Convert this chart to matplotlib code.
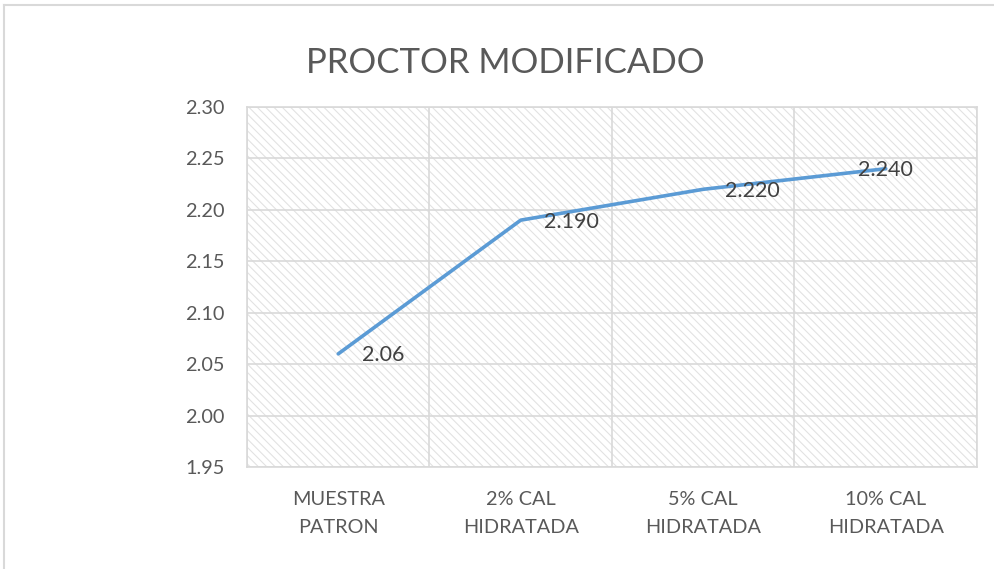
import matplotlib
matplotlib.use("Agg")
import matplotlib.pyplot as plt
from matplotlib.patches import Rectangle
from matplotlib.lines import Line2D

# data
categories = ["MUESTRA\nPATRON", "2% CAL\nHIDRATADA", "5% CAL\nHIDRATADA", "10% CAL\nHIDRATADA"]
values = [2.06, 2.19, 2.22, 2.24]
value_labels = ["2.06", "2.190", "2.220", "2.240"]
yticks = [1.95, 2.00, 2.05, 2.10, 2.15, 2.20, 2.25, 2.30]

plt.rcParams['font.family'] = ['Lato', 'DejaVu Sans']
plt.rcParams['hatch.linewidth'] = 0.8
plt.rcParams['hatch.color'] = '#E2E2E2'

grid_c = '#D9D9D9'
text_c = '#595959'
line_c = '#5B9BD5'

fig = plt.figure(figsize=(9.95, 5.69), dpi=100)
W, H = 995, 569
ax = fig.add_axes([247 / W, 1 - 467 / H, (977 - 247) / W, (467 - 107) / H])

# hatched plot area
ax.add_patch(Rectangle((0, 0), 1, 1, transform=ax.transAxes, facecolor='white',
                       edgecolor='#E2E2E2', hatch='\\\\\\\\', linewidth=0, zorder=0))

x = list(range(len(categories)))
ax.plot(x, values, color=line_c, linewidth=2.6, solid_capstyle='round', zorder=3)

# data labels (offsets in points)
offsets = [(17, -1, 'left'), (17, -1, 'left'), (16, -1, 'left'), (0, -1, 'center')]
for xi, v, lab, (dx, dy, ha) in zip(x, values, value_labels, offsets):
    ax.annotate(lab, (xi, v), xytext=(dx, dy), textcoords='offset points',
                ha=ha, va='center', fontsize=15.5, color='#404040', zorder=4)

ax.set_xlim(-0.5, len(categories) - 0.5)
ax.set_ylim(1.95, 2.30)
ax.set_yticks(yticks)
ax.set_yticklabels([f"{t:.2f}" for t in yticks])
ax.set_xticks(x)
ax.set_xticklabels(categories, linespacing=1.8)
ax.set_xticks([i + 0.5 for i in range(-1, len(categories))], minor=True)
ax.tick_params(axis='both', which='both', length=0, labelsize=14.3, colors=text_c)
ax.tick_params(axis='y', pad=16)
ax.tick_params(axis='x', pad=17)
ax.grid(True, axis='y', which='major', color=grid_c, linewidth=1.2, zorder=1)
ax.grid(True, axis='x', which='minor', color=grid_c, linewidth=1.2, zorder=1)
ax.set_axisbelow(True)
for s in ax.spines.values():
    s.set_color(grid_c)
    s.set_linewidth(1.2)

fig.text(505 / W, 1 - 63 / H, "PROCTOR MODIFICADO", ha='center', va='center',
         fontsize=25, color=text_c)

# chart area border (top and left visible)
fig.add_artist(Line2D([4 / W, 1], [1 - 5 / H, 1 - 5 / H], color=grid_c, linewidth=1.5))
fig.add_artist(Line2D([4 / W, 4 / W], [0, 1 - 5 / H], color=grid_c, linewidth=1.5))

fig.savefig("out.png", dpi=100)
